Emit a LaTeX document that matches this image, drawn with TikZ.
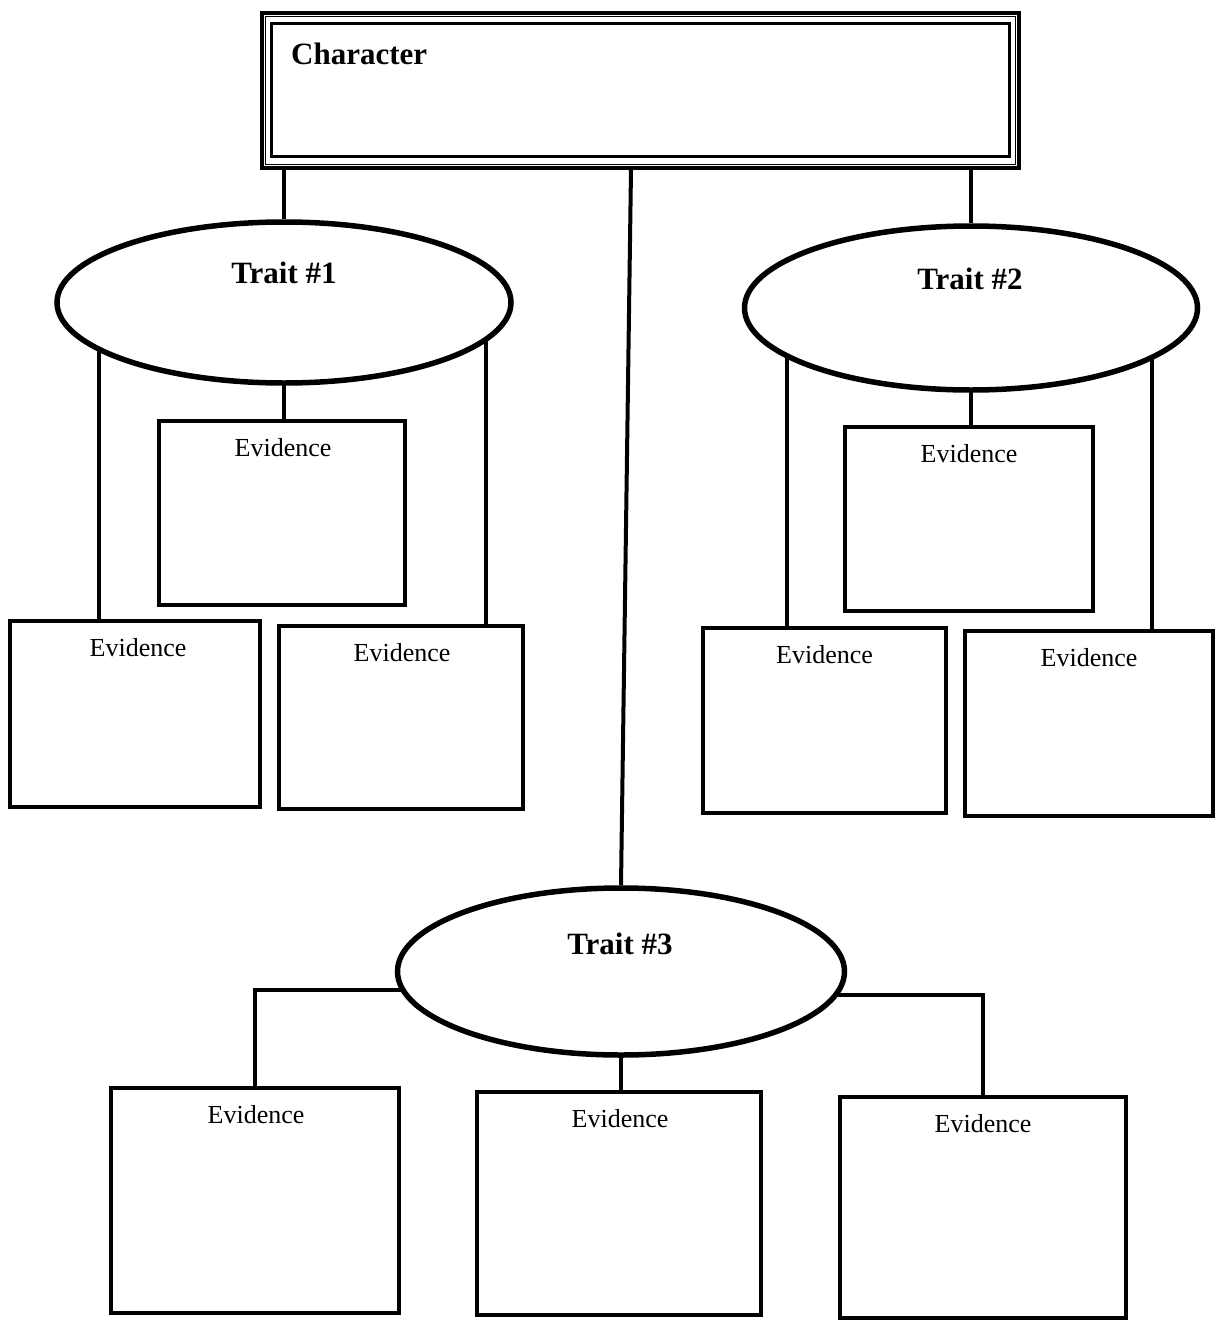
\documentclass[tikz,border=0pt]{standalone}
\usepackage{fontspec}
\setmainfont{Liberation Serif}
\usetikzlibrary{shapes.geometric,backgrounds}
\begin{document}
\begin{tikzpicture}[x=1pt,y=-1pt,
  ev/.style={draw, line width=3.5pt, rectangle, inner sep=0pt, fill=white},
  trait/.style={draw, line width=5.5pt, ellipse, fill=white, inner sep=0pt},
  conn/.style={line width=4pt},
  evtext/.style={font=\fontsize{26}{30}\selectfont, anchor=base, inner sep=0pt},
  traittext/.style={font=\fontsize{31}{36}\selectfont\bfseries, anchor=base, inner sep=0pt}]
\useasboundingbox (0,0) rectangle (1217,1331);
% top box with triple border
\node[draw, line width=3.5pt, rectangle, inner sep=0pt, minimum width=757pt, minimum height=155pt] (top) at (640.5,90.5) {};
\draw[line width=1.2pt] ([shift={(5.5,5.5)}]top.north west) rectangle ([shift={(-5.5,-5.5)}]top.south east);
\draw[line width=3pt] ([shift={(11,12)}]top.north west) rectangle ([shift={(-11,-13)}]top.south east);
\node[traittext, anchor=base west] (chartxt) at (291,64) {Character};
% traits
\node[trait, minimum width=454pt, minimum height=161pt] (e1) at (284,302.5) {};
\node[trait, minimum width=453pt, minimum height=164pt] (e2) at (971,308) {};
\node[trait, minimum width=447pt, minimum height=167pt] (e3) at (621,971.5) {};
\node[traittext] (t1) at (284,283) {Trait \#1};
\node[traittext] (t2) at (970,289) {Trait \#2};
\node[traittext] (t3) at (620,954) {Trait \#3};
% evidence boxes
\node[ev, minimum width=246pt, minimum height=184pt] (b11) at (282,513) {};
\node[ev, minimum width=250pt, minimum height=186pt] (b12) at (135,714) {};
\node[ev, minimum width=244pt, minimum height=183pt] (b13) at (401,717.5) {};
\node[ev, minimum width=248pt, minimum height=184pt] (b21) at (969,519) {};
\node[ev, minimum width=243pt, minimum height=185pt] (b22) at (824.5,720.5) {};
\node[ev, minimum width=248pt, minimum height=185pt] (b23) at (1089,723.5) {};
\node[ev, minimum width=288pt, minimum height=225pt] (b31) at (255,1200.5) {};
\node[ev, minimum width=284pt, minimum height=223pt] (b32) at (619,1203.5) {};
\node[ev, minimum width=286pt, minimum height=221pt] (b33) at (983,1207.5) {};
\foreach \b/\dx in {b11/1,b12/3,b13/1,b21/0,b22/0,b23/0,b31/1,b32/1,b33/0}{
  \node[evtext] (\b txt) at ([shift={(\dx,37)}]\b.north) {Evidence};
}
% connectors
\begin{pgfonlayer}{background}
\draw[conn] (top.south -| e1.north) -- (e1.north);
\draw[conn] (top.south -| e2.north) -- (e2.north);
\draw[conn] (top.south -| 631,0) -- (e3.north);
\draw[conn] (e1.south) -- (e1.south |- b11.north);
\draw[conn] (b12.north -| 99,0) -- (e1.center -| 99,0);
\draw[conn] (b13.north -| 486,0) -- (e1.center -| 486,0);
\draw[conn] (e2.south) -- (e2.south |- b21.north);
\draw[conn] (b22.north -| 787,0) -- (e2.center -| 787,0);
\draw[conn] (b23.north -| 1152,0) -- (e2.center -| 1152,0);
\draw[conn] (b31.north) |- (e3.center |- 0,990);
\draw[conn] (b33.north) |- (e3.center |- 0,995);
\draw[conn] (e3.south) -- (e3.south |- b32.north);
\end{pgfonlayer}
\end{tikzpicture}
\end{document}
